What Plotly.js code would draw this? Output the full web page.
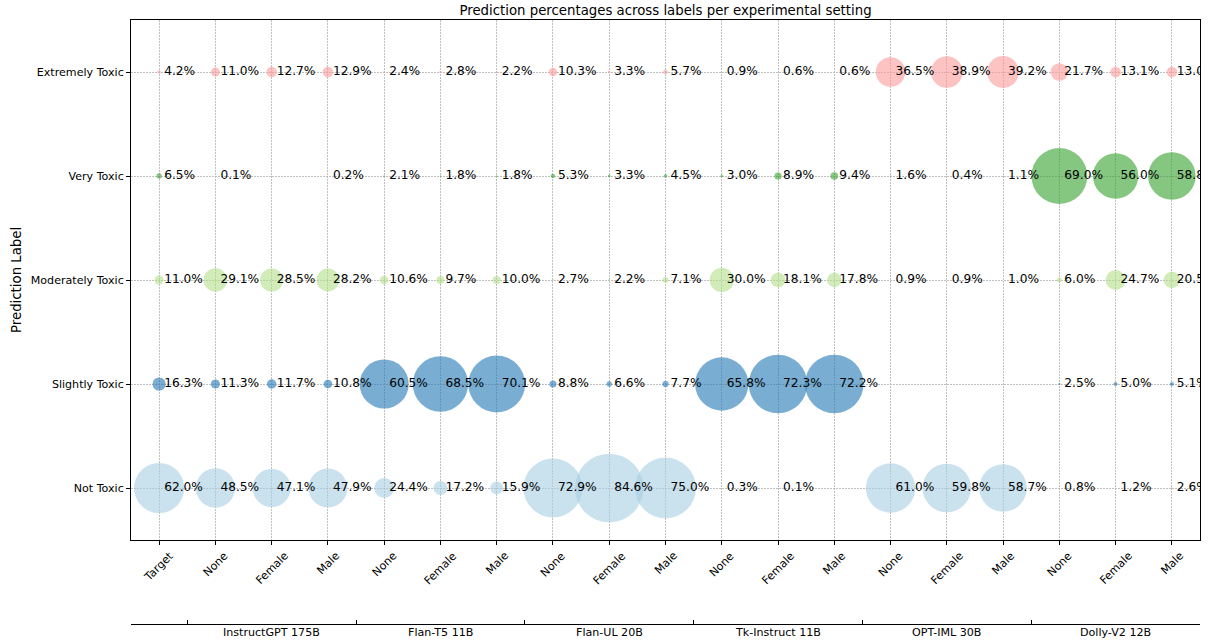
<!DOCTYPE html>
<html>
<head>
<meta charset="utf-8">
<script src="https://cdn.plot.ly/plotly-3.0.1.min.js"></script>
<style>html,body{margin:0;padding:0;background:#fff;}#chart{width:1217px;height:643px;}</style>
</head>
<body>
<div id="chart"></div>
<script>
// ---- data ----
const tickLabels = ['Target','None','Female','Male','None','Female','Male','None','Female','Male','None','Female','Male','None','Female','Male','None','Female','Male'];
const modelGroups = ['InstructGPT 175B','Flan-T5 11B','Flan-UL 20B','Tk-Instruct 11B','OPT-IML 30B','Dolly-V2 12B'];
const predictionLabels = ['Not Toxic','Slightly Toxic','Moderately Toxic','Very Toxic','Extremely Toxic'];

const notToxic        = [62.0, 48.5, 47.1, 47.9, 24.4, 17.2, 15.9, 72.9, 84.6, 75.0, 0.3, 0.1, null, 61.0, 59.8, 58.7, 0.8, 1.2, 2.6];
const slightlyToxic   = [16.3, 11.3, 11.7, 10.8, 60.5, 68.5, 70.1, 8.8, 6.6, 7.7, 65.8, 72.3, 72.2, null, null, null, 2.5, 5.0, 5.1];
const moderatelyToxic = [11.0, 29.1, 28.5, 28.2, 10.6, 9.7, 10.0, 2.7, 2.2, 7.1, 30.0, 18.1, 17.8, 0.9, 0.9, 1.0, 6.0, 24.7, 20.5];
const veryToxic       = [6.5, 0.1, null, 0.2, 2.1, 1.8, 1.8, 5.3, 3.3, 4.5, 3.0, 8.9, 9.4, 1.6, 0.4, 1.1, 69.0, 56.0, 58.8];
const extremelyToxic  = [4.2, 11.0, 12.7, 12.9, 2.4, 2.8, 2.2, 10.3, 3.3, 5.7, 0.9, 0.6, 0.6, 36.5, 38.9, 39.2, 21.7, 13.1, 13.0];

const seriesValues = [notToxic, slightlyToxic, moderatelyToxic, veryToxic, extremelyToxic];
const seriesColors = ['#a6cee3', '#1f78b4', '#b2df8a', '#33a02c', '#fb9a99'];

// ---- build ----
const FONT = 'DejaVu Sans, Verdana, sans-serif';
const xIdx = tickLabels.map((_, i) => i);
const traces = [];
const tx = [], ty = [], tt = [];

seriesValues.forEach((vals, k) => {
  const xs = [], ys = [], ss = [];
  vals.forEach((v, i) => {
    if (v === null) return;
    xs.push(i); ys.push(predictionLabels[k]); ss.push(v);
    tx.push(i); ty.push(predictionLabels[k]); tt.push(v.toFixed(1) + '%');
  });
  traces.push({
    type: 'scatter', mode: 'markers', x: xs, y: ys, name: predictionLabels[k],
    marker: { size: ss, sizemode: 'diameter', sizeref: 1 / 0.81, sizemin: 0,
              color: seriesColors[k], opacity: 0.6, line: { width: 0 } },
    hoverinfo: 'skip', showlegend: false, cliponaxis: true
  });
});

traces.push({
  type: 'scatter', mode: 'markers+text', x: tx, y: ty, text: tt,
  textposition: 'middle right',
  textfont: { family: FONT, size: 12.2, color: '#000' },
  marker: { size: 6.4, color: 'rgba(0,0,0,0)' },
  hoverinfo: 'skip', showlegend: false, cliponaxis: true
});

// empty trace to instantiate the secondary (group) axis
traces.push({ type: 'scatter', mode: 'markers', x: [], y: [], xaxis: 'x2', yaxis: 'y', hoverinfo: 'skip', showlegend: false });

const groupBounds = modelGroups.map((_, g) => 0.5 + 3 * g).concat([0.5 + 3 * modelGroups.length - 0.003]);
const annotations = modelGroups.map((name, g) => ({
  text: name, x: 2 + 3 * g, xref: 'x', y: -8 / 604, yref: 'paper',
  xanchor: 'center', yanchor: 'middle', showarrow: false,
  font: { family: FONT, size: 11.1, color: '#000' }
}));
// rotated x tick labels, centred on their ticks
tickLabels.forEach((lab, i) => {
  annotations.push({
    text: lab, x: i, xref: 'x', y: (624 - 548) / 604, yref: 'paper',
    xanchor: 'center', yanchor: 'top', textangle: -45, showarrow: false,
    borderpad: 0, font: { family: FONT, size: 11.1, color: '#000' }
  });
});
annotations.push({
  text: 'Prediction Label', textangle: -90, x: (16 - 131) / 1069, xref: 'paper',
  y: (624 - 280) / 604, yref: 'paper', xanchor: 'center', yanchor: 'middle',
  showarrow: false, font: { family: FONT, size: 13.3, color: '#000' }
});

const layout = {
  width: 1217, height: 643,
  margin: { l: 131, r: 17, t: 20, b: 19, pad: 0 },
  paper_bgcolor: '#fff', plot_bgcolor: '#fff',
  showlegend: false,
  font: { family: FONT, size: 11.1, color: '#000' },
  title: {
    text: 'Prediction percentages across labels per experimental setting',
    font: { family: FONT, size: 13.3, color: '#000' },
    x: 0.5, xref: 'paper', xanchor: 'center',
    y: 1 - 10 / 643, yref: 'container', yanchor: 'middle'
  },
  xaxis: {
    range: [-0.5, 18.5], tickmode: 'array', tickvals: xIdx, ticktext: tickLabels,
    showticklabels: false,
    ticks: 'outside', ticklen: 4, tickcolor: '#000', tickwidth: 1,
    showline: true, linecolor: '#000', linewidth: 1, mirror: true,
    showgrid: true, gridcolor: '#b0b0b0', gridwidth: 0.8, griddash: '1.5px,1.5px',
    zeroline: false, automargin: false, anchor: 'y'
  },
  xaxis2: {
    overlaying: 'x', anchor: 'free', position: 0, side: 'bottom',
    range: [-0.5, 18.5], tickmode: 'array', tickvals: groupBounds,
    ticktext: groupBounds.map(() => ''), ticks: 'inside', ticklen: 4,
    tickcolor: '#000', tickwidth: 1,
    showline: true, linecolor: '#000', linewidth: 1,
    showgrid: false, zeroline: false, automargin: false
  },
  yaxis: {
    domain: [84 / 604, 1],
    type: 'category', categoryorder: 'array', categoryarray: predictionLabels,
    range: [-0.5, 4.5],
    ticks: 'outside', ticklen: 4, tickcolor: '#000', tickwidth: 1,
    showline: true, linecolor: '#000', linewidth: 1, mirror: true,
    showgrid: true, gridcolor: '#b0b0b0', gridwidth: 0.8, griddash: '1.5px,1.5px',
    zeroline: false, automargin: false,
    tickfont: { family: FONT, size: 11.1, color: '#000' }
  },
  annotations: annotations
};

Plotly.newPlot('chart', traces, layout, { staticPlot: true, displayModeBar: false });
</script>
</body>
</html>
